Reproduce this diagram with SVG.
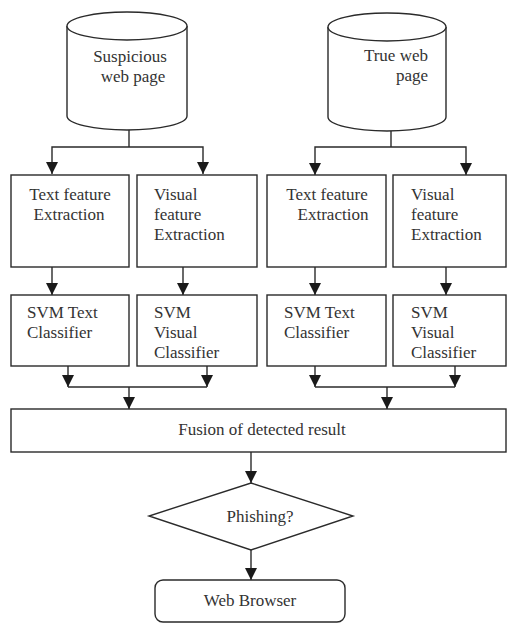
<svg xmlns="http://www.w3.org/2000/svg" width="510" height="625" viewBox="0 0 510 625">
<style>
.s{fill:#fff;stroke:#2a2a2a;stroke-width:1.4}
.c{fill:none;stroke:#2a2a2a;stroke-width:1.4}
.t{font-family:"Liberation Serif","Times New Roman",serif;font-size:17px;fill:#333}
.m{text-anchor:middle}
.e{text-anchor:end}
</style>
<defs>
<marker id="ah" markerUnits="userSpaceOnUse" markerWidth="13" markerHeight="12" refX="12" refY="6" orient="auto-start-reverse" viewBox="0 0 13 12">
<path d="M0,0 L12,6 L0,12 Z" fill="#1a1a1a"/>
</marker>
</defs>
<rect width="510" height="625" fill="#fff"/>
<g id="connectors">
<path class="c" d="M129,130 V147"/>
<path class="c" d="M52,174 V147 H203 V174" marker-start="url(#ah)" marker-end="url(#ah)"/>
<path class="c" d="M391,131 V147"/>
<path class="c" d="M315,175 V147 H466 V175" marker-start="url(#ah)" marker-end="url(#ah)"/>
<path class="c" d="M52,267 V295" marker-end="url(#ah)"/>
<path class="c" d="M183,267 V295" marker-end="url(#ah)"/>
<path class="c" d="M315,267 V295" marker-end="url(#ah)"/>
<path class="c" d="M446,267 V295" marker-end="url(#ah)"/>
<path class="c" d="M68,366 V387" marker-end="url(#ah)"/>
<path class="c" d="M207,366 V387" marker-end="url(#ah)"/>
<path class="c" d="M68,387 H207"/>
<path class="c" d="M129,387 V409" marker-end="url(#ah)"/>
<path class="c" d="M315,366 V387" marker-end="url(#ah)"/>
<path class="c" d="M455,366 V387" marker-end="url(#ah)"/>
<path class="c" d="M315,387 H455"/>
<path class="c" d="M387,387 V409" marker-end="url(#ah)"/>
<path class="c" d="M251,452 V483" marker-end="url(#ah)"/>
<path class="c" d="M251,550 V580" marker-end="url(#ah)"/>
</g>
<g id="suspicious-page">
<path class="s" d="M67,26 V116 A60,14 0 0 0 187,116 V26"/>
<ellipse class="s" cx="127" cy="26" rx="60" ry="14"/>
<text class="t m" x="130" y="62">Suspicious</text>
<text class="t m" x="133" y="82">web page</text>
</g>
<g id="true-page">
<path class="s" d="M328,27 V117 A59,14 0 0 0 446,117 V27"/>
<ellipse class="s" cx="387" cy="27" rx="59" ry="14"/>
<text class="t e" x="428" y="61">True web</text>
<text class="t e" x="428" y="81">page</text>
</g>
<g id="text-extract-1">
<rect class="s" x="11" y="175" width="118" height="92"/>
<text class="t m" x="70" y="200">Text feature</text>
<text class="t m" x="69" y="220">Extraction</text>
</g>
<g id="visual-extract-1">
<rect class="s" x="137" y="175" width="120" height="92"/>
<text class="t" x="154" y="200">Visual</text>
<text class="t" x="154" y="220">feature</text>
<text class="t" x="154" y="240">Extraction</text>
</g>
<g id="text-extract-2">
<rect class="s" x="267" y="175" width="119" height="92"/>
<text class="t m" x="327" y="200">Text feature</text>
<text class="t m" x="333" y="220">Extraction</text>
</g>
<g id="visual-extract-2">
<rect class="s" x="393" y="175" width="113" height="92"/>
<text class="t" x="411" y="200">Visual</text>
<text class="t" x="411" y="220">feature</text>
<text class="t" x="411" y="240">Extraction</text>
</g>
<g id="svm-text-1">
<rect class="s" x="11" y="295" width="118" height="71"/>
<text class="t" x="27" y="318">SVM Text</text>
<text class="t" x="27" y="338">Classifier</text>
</g>
<g id="svm-visual-1">
<rect class="s" x="137" y="295" width="120" height="71"/>
<text class="t" x="154" y="318">SVM</text>
<text class="t" x="154" y="338">Visual</text>
<text class="t" x="154" y="358">Classifier</text>
</g>
<g id="svm-text-2">
<rect class="s" x="267" y="295" width="119" height="71"/>
<text class="t" x="284" y="318">SVM Text</text>
<text class="t" x="284" y="338">Classifier</text>
</g>
<g id="svm-visual-2">
<rect class="s" x="393" y="295" width="113" height="71"/>
<text class="t" x="411" y="318">SVM</text>
<text class="t" x="411" y="338">Visual</text>
<text class="t" x="411" y="358">Classifier</text>
</g>
<g id="fusion">
<rect class="s" x="11" y="409" width="495" height="43"/>
<text class="t m" x="262" y="435">Fusion of detected result</text>
</g>
<g id="phishing">
<polygon class="s" points="251,483 353,516 251,550 149,516"/>
<text class="t m" x="260" y="522">Phishing?</text>
</g>
<g id="web-browser">
<rect class="s" x="155" y="580" width="190" height="42" rx="8"/>
<text class="t m" x="250" y="606">Web Browser</text>
</g>
</svg>
